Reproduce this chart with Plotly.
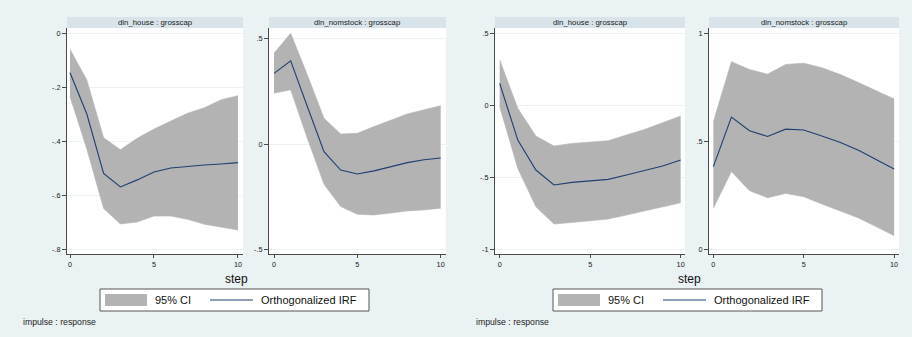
import plotly.graph_objects as go

# ---------------- data ----------------
steps = [0, 1, 2, 3, 4, 5, 6, 7, 8, 9, 10]

# Left graph, panel 1: dln_house : grosscap
p1_upper = [-0.060, -0.174, -0.388, -0.432, -0.390, -0.356, -0.326, -0.297, -0.277, -0.247, -0.232]
p1_irf   = [-0.147, -0.300, -0.520, -0.570, -0.544, -0.515, -0.500, -0.494, -0.489, -0.485, -0.480]
p1_lower = [-0.236, -0.430, -0.650, -0.707, -0.700, -0.678, -0.678, -0.690, -0.708, -0.720, -0.730]

# Left graph, panel 2: dln_nomstock : grosscap
p2_upper = [0.431, 0.526, 0.329, 0.123, 0.049, 0.052, 0.084, 0.115, 0.144, 0.163, 0.183]
p2_irf   = [0.336, 0.395, 0.179, -0.035, -0.122, -0.141, -0.126, -0.106, -0.087, -0.073, -0.065]
p2_lower = [0.242, 0.258, 0.028, -0.190, -0.295, -0.332, -0.335, -0.324, -0.316, -0.311, -0.303]

# Right graph, panel 3: dln_house : grosscap
p3_upper = [0.315, -0.021, -0.213, -0.282, -0.264, -0.257, -0.245, -0.206, -0.167, -0.120, -0.074]
p3_irf   = [0.153, -0.241, -0.449, -0.553, -0.535, -0.525, -0.514, -0.484, -0.454, -0.421, -0.380]
p3_lower = [-0.009, -0.438, -0.704, -0.824, -0.813, -0.803, -0.789, -0.762, -0.734, -0.708, -0.676]

# Right graph, panel 4: dln_nomstock : grosscap
p4_upper = [0.590, 0.869, 0.833, 0.811, 0.856, 0.862, 0.841, 0.810, 0.773, 0.734, 0.696]
p4_irf   = [0.382, 0.612, 0.549, 0.522, 0.556, 0.552, 0.524, 0.495, 0.459, 0.416, 0.371]
p4_lower = [0.189, 0.359, 0.270, 0.238, 0.258, 0.243, 0.209, 0.178, 0.145, 0.104, 0.062]

panel_titles = ["dln_house : grosscap", "dln_nomstock : grosscap",
                "dln_house : grosscap", "dln_nomstock : grosscap"]
x_ticks = [0, 5, 10]
y_ticks = [
    ([0, -0.2, -0.4, -0.6, -0.8], ["0", "-.2", "-.4", "-.6", "-.8"]),
    ([0.5, 0, -0.5], [".5", "0", "-.5"]),
    ([0.5, 0, -0.5, -1], [".5", "0", "-.5", "-1"]),
    ([1, 0.5, 0], ["1", ".5", "0"]),
]
legend_ci = "95% CI"
legend_irf = "Orthogonalized IRF"
x_title = "step"
note_text = "impulse : response"

# ---------------- layout helpers ----------------
W, H = 912, 337
def px(x):
    return x / W
def py(y):
    return 1 - y / H

BG = "#EAF2F3"
STRIP = "#D8E4EA"
BAND = "#B3B3B3"
NAVY = "#1E3F72"
AXIS = "#4A4A4A"
FONT = "Liberation Sans, Arial, Helvetica, sans-serif"

# pixel boxes of the plot regions (left, right)
boxes = [(67, 243), (269, 446), (495, 685), (709, 899)]
top, bottom = 28, 254
x_ranges = [(-0.18, 10.3), (-0.30, 10.32), (-0.26, 10.24), (-0.24, 10.27)]
y_ranges = [(-0.8185, 0.0185), (-0.52, 0.551), (-1.032, 0.537), (-0.023, 1.025)]

data = [
    (p1_upper, p1_irf, p1_lower),
    (p2_upper, p2_irf, p2_lower),
    (p3_upper, p3_irf, p3_lower),
    (p4_upper, p4_irf, p4_lower),
]

fig = go.Figure()
shapes = []
annotations = []

for i, (up, irf, lo) in enumerate(data):
    n = "" if i == 0 else str(i + 1)
    xa, ya = "x" + n, "y" + n
    fig.add_trace(go.Scatter(x=steps, y=up, xaxis=xa, yaxis=ya, mode="lines",
                             line=dict(width=0.6, color=BAND), showlegend=False,
                             hoverinfo="skip"))
    fig.add_trace(go.Scatter(x=steps, y=lo, xaxis=xa, yaxis=ya, mode="lines",
                             line=dict(width=0.6, color=BAND), fill="tonexty",
                             fillcolor=BAND, showlegend=False, hoverinfo="skip"))
    fig.add_trace(go.Scatter(x=steps, y=irf, xaxis=xa, yaxis=ya, mode="lines",
                             line=dict(width=1.1, color=NAVY), showlegend=False))
    l, r = boxes[i]
    fig.layout["xaxis" + n] = dict(
        domain=[px(l), px(r)], anchor=ya, range=list(x_ranges[i]),
        tickvals=x_ticks, ticktext=[str(t) for t in x_ticks],
        ticks="outside", ticklen=3, tickcolor=AXIS, tickwidth=1,
        showline=True, linecolor=AXIS, linewidth=1, showgrid=False,
        zeroline=False, tickfont=dict(size=7.3, color="#1a1a1a", family=FONT),
        fixedrange=True)
    tv, tt = y_ticks[i]
    fig.layout["yaxis" + n] = dict(
        domain=[py(bottom), py(top)], anchor=xa, range=list(y_ranges[i]),
        tickvals=tv, ticktext=tt,
        ticks="outside", ticklen=4, tickcolor=AXIS, tickwidth=1,
        showline=True, linecolor=AXIS, linewidth=1, showgrid=True,
        gridcolor=BG, gridwidth=1, zeroline=False,
        tickfont=dict(size=7.3, color="#1a1a1a", family=FONT), fixedrange=True)
    # strip title
    shapes.append(dict(type="rect", xref="paper", yref="paper",
                       x0=px(l), x1=px(r), y0=py(top), y1=py(17),
                       fillcolor=STRIP, line=dict(width=0), layer="below"))
    annotations.append(dict(text=panel_titles[i], xref="paper", yref="paper",
                            x=px((l + r) / 2), y=py(22.5), showarrow=False,
                            xanchor="center", yanchor="middle",
                            font=dict(size=7.8, color="#1a1a1a", family=FONT)))

# legends, x titles, notes for the two graphs
for off in (0, 453):
    shapes.append(dict(type="rect", xref="paper", yref="paper",
                       x0=px(100 + off), x1=px(369 + off), y0=py(311), y1=py(289),
                       fillcolor="white", line=dict(color="#555", width=1)))
    shapes.append(dict(type="rect", xref="paper", yref="paper",
                       x0=px(105 + off), x1=px(147 + off), y0=py(306), y1=py(294),
                       fillcolor=BAND, line=dict(width=0)))
    shapes.append(dict(type="line", xref="paper", yref="paper",
                       x0=px(210 + off), x1=px(253 + off), y0=py(300), y1=py(300),
                       line=dict(color=NAVY, width=1.2)))
    annotations.append(dict(text=legend_ci, xref="paper", yref="paper",
                            x=px(153 + off), y=py(300), showarrow=False,
                            xanchor="left", yanchor="middle",
                            font=dict(size=11, color="#111", family=FONT)))
    annotations.append(dict(text=legend_irf, xref="paper", yref="paper",
                            x=px(259 + off), y=py(300), showarrow=False,
                            xanchor="left", yanchor="middle",
                            font=dict(size=11, color="#111", family=FONT)))
    annotations.append(dict(text=x_title, xref="paper", yref="paper",
                            x=px(236 + off), y=py(279), showarrow=False,
                            xanchor="center", yanchor="middle",
                            font=dict(size=12, color="#111", family=FONT)))
    annotations.append(dict(text=note_text, xref="paper", yref="paper",
                            x=px(21 + off), y=py(322), showarrow=False,
                            xanchor="left", yanchor="middle",
                            font=dict(size=8.7, color="#222", family=FONT)))

fig.update_layout(width=W, height=H, margin=dict(l=0, r=0, t=0, b=0),
                  paper_bgcolor=BG, plot_bgcolor="white",
                  shapes=shapes, annotations=annotations, showlegend=False)

fig.write_html("out.html",
               config={"displayModeBar": False, "staticPlot": True},
               post_script="document.body.style.margin='0';"
                           "document.body.style.padding='0';"
                           "document.body.style.overflow='hidden';")
